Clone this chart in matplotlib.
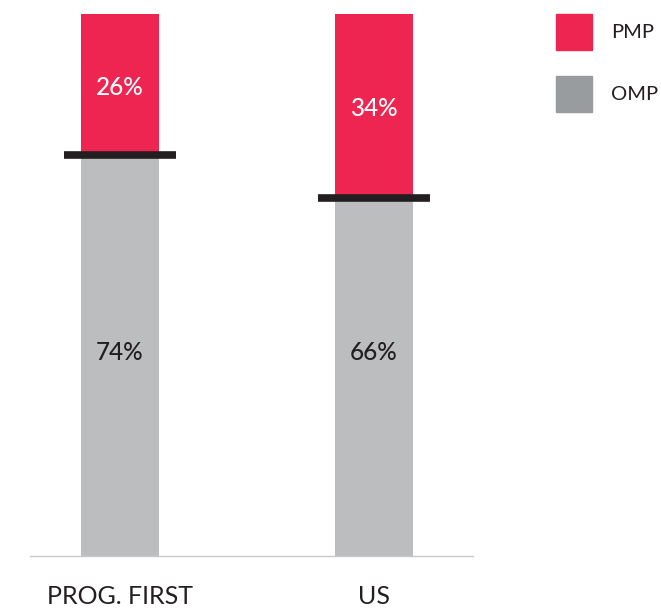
import numpy as np
import matplotlib.pyplot as plt
from matplotlib.patches import Rectangle

# PMP vs OMP share, stacked bars
groups = ['PROG. FIRST', 'US']
omp = np.array([74, 66])
pmp = np.array([26, 34])

red = '#ee2550'
grey = '#bcbdbf'
legend_grey = '#999c9f'
ink = '#231f20'

plt.rcParams['font.family'] = ['Lato', 'DejaVu Sans']

fig = plt.figure(figsize=(6.61, 6.08), dpi=100)
ax = fig.add_axes([30 / 661, 52 / 608, 443 / 661, 542 / 608])

x = np.arange(len(groups))
w = 0.307
ax.bar(x, omp, width=w, color=grey)
ax.bar(x, pmp, width=w, bottom=omp, color=red)

# thick marker at the split between the two segments
ax.hlines(omp, x - 0.222, x + 0.222, color=ink, linewidth=5.5)

for i in range(len(groups)):
    ax.text(x[i], omp[i] + pmp[i] / 2 - 0.5, f'{pmp[i]}%', ha='center', va='center',
            color='white', fontsize=17.5, fontweight='medium')
    ax.text(x[i], 37.5, f'{omp[i]}%', ha='center', va='center',
            color=ink, fontsize=17.5, fontweight='medium')

ax.set_xlim(-0.354, 1.39)
ax.set_ylim(0, 100)
ax.set_xticks(x)
ax.set_xticklabels(groups, fontsize=18, color=ink)
ax.tick_params(axis='x', length=0, pad=21)
ax.set_yticks([])
for s in ['top', 'left', 'right']:
    ax.spines[s].set_visible(False)
ax.spines['bottom'].set_color('#c8c8c8')
ax.spines['bottom'].set_linewidth(1)

# legend drawn by hand on the right
for (label, col, top) in [('PMP', red, 14), ('OMP', legend_grey, 76)]:
    fig.add_artist(Rectangle((556 / 661, 1 - (top + 36) / 608), 36 / 661, 36 / 608,
                             transform=fig.transFigure, color=col))
    fig.text(611 / 661, 1 - (top + 18) / 608, label, ha='left', va='center',
             fontsize=14.5, color=ink)

plt.savefig('out.png', dpi=100)
